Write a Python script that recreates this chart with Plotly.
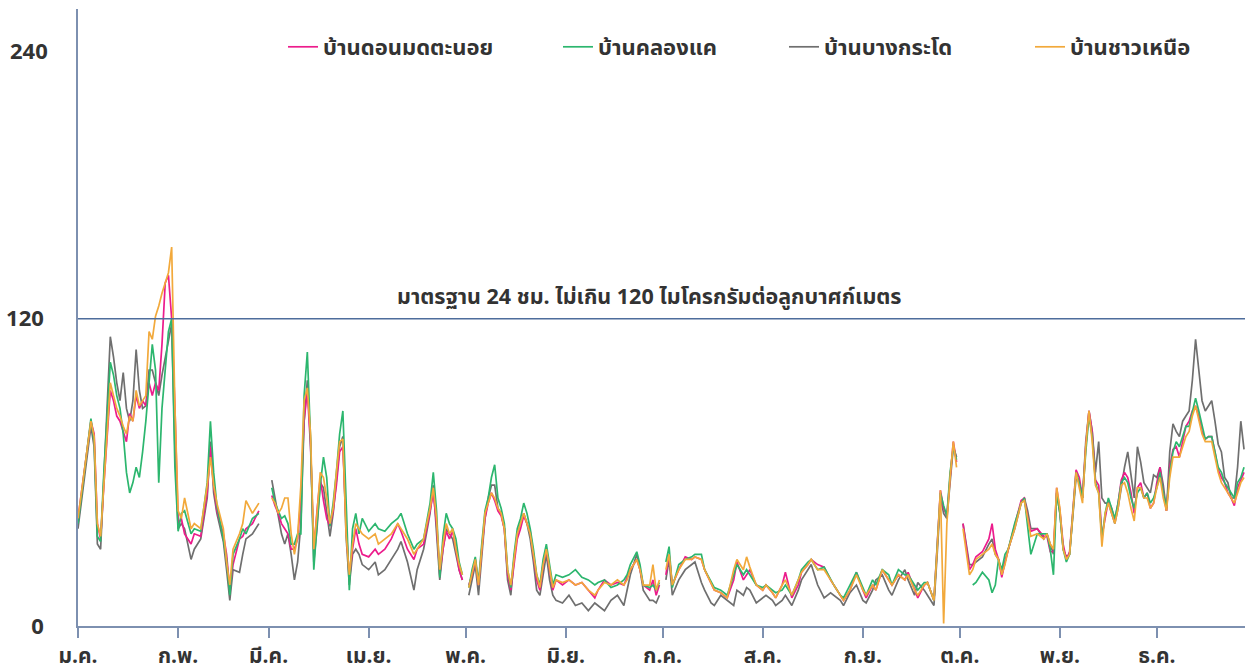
import plotly.graph_objects as go

# Day of year (0 = 1 Jan) for each reading; None marks gaps in the record
days = [0, 2, 4, 5, 6, 7, 8, 10, 11, 12,
        13, 14, 15, 16, 17, 18, 19, 20, 21, 22,
        23, 24, 25, 26, 27, 28, 29, 30, 31, 32,
        33, 35, 36, 38, 40, 41, 42, 43, 45, 46,
        47, 48, 50, 51, 52, 54, 56, 58, 60, 61,
        62, 63, 64, 65, 66, 67, 68, 69, 70, 71,
        72, 73, 74, 75, 76, 77, 78, 79, 80, 81,
        82, 83, 84, 85, 86, 87, 88, 90, 92, 93,
        95, 97, 99, 100, 102, 104, 105, 107, 109, 110,
        111, 112, 113, 114, 115, 116, 117, 118, 119, 120,
        121, 122, 123, 124, 125, 126, 127, 128, 129, 130,
        131, 132, 133, 134, 135, 136, 137, 138, 139, 140,
        141, 142, 143, 144, 145, 146, 147, 148, 150, 152,
        154, 156, 158, 160, 161, 163, 165, 167, 169, 170,
        171, 173, 174, 175, 177, 178, 179, 180, 181, 182,
        183, 184, 186, 188, 190, 191, 193, 194, 196, 197,
        199, 201, 203, 204, 206, 207, 208, 210, 212, 213,
        215, 216, 218, 219, 221, 223, 224, 226, 227, 229,
        231, 233, 234, 236, 237, 239, 241, 243, 244, 246,
        247, 249, 251, 252, 254, 256, 257, 259, 260, 262,
        263, 265, 266, 267, 268, 269, 270, 271, 272, 273,
        274, 276, 277, 278, 280, 282, 283, 284, 285, 286,
        287, 288, 290, 292, 293, 294, 295, 297, 299, 300,
        301, 302, 303, 304, 305, 306, 307, 308, 309, 310,
        311, 312, 313, 314, 315, 316, 317, 318, 319, 320,
        321, 322, 323, 324, 325, 326, 327, 328, 329, 330,
        331, 332, 333, 334, 335, 336, 337, 338, 339, 340,
        341, 342, 343, 344, 345, 346, 347, 348, 349, 350,
        351, 352, 353, 354, 355, 356, 357, 358, 359, 360,
        361]

don_mot_ta_noi = [42, 62, 80, 75, 40, 34, 55, 92, 88, 82,
                  80, 76, 72, 83, 80, 90, 85, 88, 86, 95,
                  90, 95, 92, 110, 134, 137, 120, 86, 40, 42,
                  36, 32, 36, 35, 52, 70, 55, 45, 36, 28,
                  14, 24, 34, 35, 38, 40, 45, None, 51, 47,
                  44, 40, 38, 36, 30, 30, 34, 50, 80, 92,
                  70, 30, 45, 58, 49, 42, 39, 45, 55, 68,
                  70, 40, 18, 30, 38, 32, 28, 27, 30, 28,
                  30, 34, 40, 37, 30, 26, 30, 32, 45, 52,
                  40, 20, 30, 37, 34, 37, 30, 22, 18, None,
                  16, 20, 26, 16, 30, 42, 48, 52, 49, 45,
                  43, 38, 20, 14, 24, 34, 38, 43, 40, 37,
                  28, 18, 14, 24, 30, 22, 14, 18, 16, 18,
                  16, 17, 14, 11, 14, 18, 16, 17, 16, 19,
                  22, 26, 22, 16, 14, 18, 12, 16, None, 20,
                  28, 16, 22, 27, 26, 27, 26, 22, 17, 14,
                  13, 11, 18, 25, 18, 20, 22, 16, 14, 16,
                  13, 11, 16, 21, 11, 16, 21, 24, 26, 24,
                  23, 18, 16, 12, 10, 14, 21, 14, 11, 16,
                  14, 22, 18, 16, 20, 18, 21, 14, 11, 16,
                  17, 10, 30, 53, 46, 43, 58, 72, 64, None,
                  40, 22, 24, 27, 29, 34, 40, 30, 26, 19,
                  25, 30, 40, 49, 50, 42, 37, 38, 35, 35,
                  29, 29, 54, 45, 32, 26, 29, 45, 61, 58,
                  50, 70, 84, 76, 57, 55, 35, 42, 49, 46,
                  41, 48, 57, 60, 58, 52, 44, 54, 56, 50,
                  52, 46, 48, 56, 62, 52, 45, 62, 69, 70,
                  66, 72, 78, 80, 84, 86, 82, 76, 73, 74,
                  74, 68, 61, 58, 56, 52, 50, 47, 54, 57,
                  60]

khlong_khae = [40, 60, 81, 72, 35, 33, 60, 103, 98, 90,
               85, 75, 60, 52, 56, 62, 58, 68, 80, 95,
               110, 100, 56, 85, 100, 115, 120, 62, 37, 44,
               45, 36, 38, 37, 56, 80, 60, 47, 34, 26,
               12, 28, 34, 38, 36, 42, 44, None, 54, 48,
               45, 42, 43, 40, 32, 32, 36, 36, 90, 107,
               73, 22, 40, 55, 66, 58, 39, 48, 60, 75,
               84, 50, 14, 38, 44, 36, 42, 37, 40, 38,
               37, 40, 42, 44, 36, 30, 32, 34, 48, 60,
               45, 19, 35, 44, 40, 38, 34, 25, 20, None,
               15, 22, 27, 17, 32, 45, 50, 58, 63, 50,
               46, 40, 22, 15, 28, 38, 42, 48, 44, 38,
               30, 20, 16, 26, 32, 24, 16, 20, 19, 20,
               22, 19, 18, 16, 17, 18, 15, 16, 18, 20,
               24, 29, 24, 16, 15, 16, 14, 17, None, 25,
               31, 15, 24, 26, 27, 28, 28, 22, 17, 15,
               14, 12, 20, 24, 20, 22, 20, 16, 15, 16,
               14, 13, 14, 16, 12, 18, 22, 25, 26, 22,
               23, 18, 16, 12, 11, 16, 21, 15, 12, 18,
               16, 22, 20, 16, 22, 20, 20, 16, 14, 17,
               17, 10, 32, 52, 47, 43, 60, 70, 65, None,
               None, None, 16, 17, 21, 18, 13, 16, 26, 22,
               28, 30, 40, 48, 50, 40, 28, 36, 36, 36,
               30, 20, 52, 44, 30, 25, 28, 44, 60, 56,
               50, 68, 82, 74, 56, 52, 34, 44, 50, 46,
               42, 48, 56, 58, 56, 50, 46, 52, 54, 50,
               52, 48, 50, 54, 60, 52, 46, 60, 68, 72,
               70, 74, 78, 78, 84, 89, 84, 78, 73, 74,
               74, 68, 62, 60, 56, 54, 52, 50, 56, 58,
               62]

bang_krado = [38, 58, 78, 70, 32, 30, 58, 113, 105, 95,
              88, 99, 85, 80, 88, 108, 92, 85, 86, 100,
              100, 95, 90, 98, 105, 112, 118, 70, 38, 40,
              38, 26, 30, 34, 50, 72, 52, 44, 33, 22,
              10, 22, 21, 28, 34, 36, 40, None, 57, 50,
              44, 36, 32, 36, 28, 18, 25, 40, 80, 96,
              72, 25, 38, 56, 54, 45, 35, 44, 56, 70,
              74, 35, 16, 28, 30, 28, 24, 22, 25, 20,
              22, 26, 30, 33, 25, 14, 22, 30, 44, 55,
              38, 18, 30, 38, 36, 34, 28, 22, 18, None,
              12, 18, 24, 12, 28, 42, 50, 55, 55, 46,
              44, 38, 18, 12, 26, 36, 40, 44, 40, 34,
              25, 14, 12, 20, 28, 18, 12, 10, 9, 12,
              8, 9, 6, 9, 8, 6, 10, 12, 8, 14,
              20, 28, 22, 14, 10, 10, 9, 12, None, 18,
              26, 12, 18, 22, 24, 25, 17, 14, 9, 8,
              12, 10, 8, 14, 12, 15, 14, 9, 11, 12,
              10, 8, 10, 12, 8, 14, 18, 22, 24, 16,
              11, 13, 12, 10, 8, 13, 16, 10, 9, 14,
              18, 20, 14, 12, 18, 22, 18, 12, 17, 14,
              12, 8, 28, 50, 44, 42, 56, 70, 66, None,
              40, 24, 24, 25, 27, 32, 34, 28, 26, 20,
              25, 30, 38, 48, 50, 45, 38, 38, 34, 36,
              32, 28, 52, 44, 30, 27, 28, 42, 58, 56,
              50, 72, 84, 76, 60, 72, 50, 48, 48, 44,
              40, 46, 55, 62, 68, 58, 50, 70, 64, 56,
              54, 52, 59, 58, 62, 55, 45, 68, 79, 76,
              74, 80, 82, 84, 96, 112, 100, 88, 84, 86,
              88, 80, 71, 68, 58, 56, 50, 50, 62, 80,
              69]

chao_nuea = [42, 62, 80, 74, 40, 35, 55, 95, 90, 85,
             82, 78, 75, 82, 80, 92, 86, 88, 90, 115,
             112, 121, 125, 130, 134, 138, 148, 86, 45, 42,
             50, 38, 40, 38, 55, 66, 55, 48, 38, 25,
             16, 30, 36, 40, 49, 44, 48, None, 50, 48,
             44, 46, 50, 50, 36, 28, 35, 55, 88, 93,
             75, 30, 44, 60, 58, 50, 40, 46, 60, 72,
             73, 36, 20, 32, 40, 38, 36, 34, 36, 32,
             34, 36, 40, 38, 34, 28, 30, 34, 46, 54,
             42, 22, 32, 40, 36, 38, 30, 24, 20, None,
             15, 20, 26, 16, 30, 44, 48, 52, 50, 46,
             44, 38, 22, 16, 26, 36, 40, 44, 40, 36,
             28, 20, 15, 24, 30, 22, 15, 18, 17, 18,
             16, 17, 14, 12, 14, 17, 16, 18, 16, 18,
             22, 26, 22, 16, 16, 24, 14, 18, None, 22,
             28, 16, 22, 26, 26, 27, 26, 22, 17, 14,
             13, 11, 22, 26, 22, 27, 23, 16, 14, 16,
             13, 11, 16, 18, 12, 18, 21, 24, 26, 22,
             22, 18, 16, 12, 10, 14, 20, 14, 12, 16,
             14, 22, 18, 16, 20, 18, 20, 14, 12, 16,
             17, 10, 30, 53, 1, 40, 58, 72, 62, None,
             38, 20, 22, 26, 28, 30, 32, 28, 26, 20,
             24, 30, 38, 48, 49, 42, 35, 36, 34, 36,
             32, 30, 54, 46, 30, 26, 28, 44, 60, 54,
             48, 70, 84, 72, 55, 52, 31, 44, 48, 44,
             40, 46, 55, 56, 52, 46, 41, 54, 54, 50,
             50, 46, 48, 54, 58, 50, 45, 58, 66, 66,
             66, 70, 74, 76, 82, 86, 80, 75, 72, 72,
             72, 66, 60, 56, 54, 52, 50, 48, 52, 56,
             58]

month_starts = [0, 31, 59, 90, 120, 151, 181, 212, 243, 273, 304, 334]
month_labels = ["ม.ค.", "ก.พ.", "มี.ค.", "เม.ย.", "พ.ค.", "มิ.ย.",
                "ก.ค.", "ส.ค.", "ก.ย.", "ต.ค.", "พ.ย.", "ธ.ค."]
y_ticks = [0, 120]
standard_value = 120
standard_text = "มาตรฐาน 24 ชม. ไม่เกิน 120 ไมโครกรัมต่อลูกบาศก์เมตร"

FONT = "Noto Sans Thai, Noto Sans, Open Sans, sans-serif"
TEXT = "#333333"
AXIS = "#7d90b0"

series = [
    ("บ้านบางกระโด", bang_krado, "#6f6f6f", "legend3"),
    ("บ้านดอนมดตะนอย", don_mot_ta_noi, "#ec1c8c", "legend"),
    ("บ้านคลองแค", khlong_khae, "#2cb66e", "legend2"),
    ("บ้านชาวเหนือ", chao_nuea, "#f2a93b", "legend4"),
]

fig = go.Figure()
for name, vals, color, leg in series:
    fig.add_trace(go.Scatter(
        x=days, y=vals, mode="lines", name=name,
        line=dict(color=color, width=1.7),
        legend=leg, connectgaps=False,
    ))

legend_common = dict(
    orientation="h", xref="container", yref="container",
    yanchor="middle", xanchor="left", y=1 - 47 / 671,
    font=dict(family=FONT, size=22, color=TEXT, weight="bold"),
    bgcolor="rgba(0,0,0,0)", itemwidth=30,
)
legend_x = {"legend": 283, "legend2": 558, "legend3": 784, "legend4": 1030}

fig.add_hline(y=standard_value, line=dict(color="#4e6d9c", width=1.5))
fig.add_annotation(
    x=0.49, xref="paper", y=standard_value, yref="y",
    yanchor="bottom", yshift=3, showarrow=False, text=standard_text,
    font=dict(family=FONT, size=21.5, color=TEXT, weight="bold"),
)
fig.add_annotation(
    x=0, xref="paper", xanchor="right", xshift=-28, y=224, yref="y",
    showarrow=False, text="240",
    font=dict(family=FONT, size=22, color=TEXT, weight="bold"),
)

fig.update_layout(
    width=1247, height=671,
    margin=dict(l=78, r=2, t=9, b=45, autoexpand=False),
    paper_bgcolor="white", plot_bgcolor="white",
    showlegend=True,
    **{k: dict(legend_common, x=v / 1247) for k, v in legend_x.items()},
)
fig.update_xaxes(
    range=[0, 361.3], tickmode="array", tickvals=month_starts, ticktext=month_labels,
    showline=True, linecolor=AXIS, linewidth=1.5, ticks="outside", ticklen=10,
    tickcolor=AXIS, tickwidth=1.5, showgrid=False, zeroline=False,
    tickfont=dict(family=FONT, size=21, color=TEXT, weight="bold"),
)
fig.update_yaxes(
    range=[0, 241], tickmode="array", tickvals=y_ticks, ticktext=[str(v) for v in y_ticks],
    showline=True, linecolor=AXIS, linewidth=1.5, ticks="", showgrid=False,
    zeroline=False, ticklabelstandoff=28,
    tickfont=dict(family=FONT, size=22, color=TEXT, weight="bold"),
)

fig.write_html("out.html")
